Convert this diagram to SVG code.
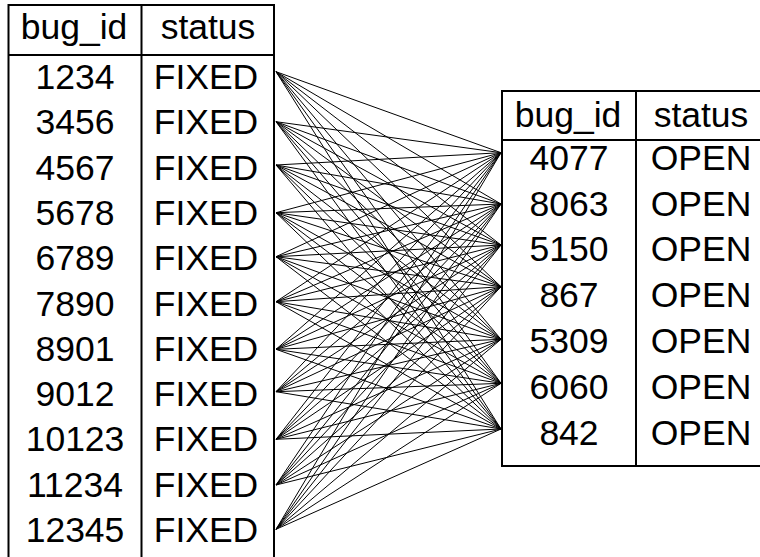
<svg xmlns="http://www.w3.org/2000/svg" width="760" height="557" viewBox="0 0 760 557">
<style>
.tb{fill:#fff;stroke:#000;stroke-width:2}
.gl{stroke:#000;stroke-width:2}
text{font-family:"Liberation Sans",Arial,Helvetica,sans-serif;font-size:35.5px;fill:#000;text-anchor:middle}
.c line{stroke:#000;stroke-width:1}
</style>
<rect width="760" height="557" fill="#fff"/>
<g id="fixed_table">
<rect class="tb" x="8.5" y="5" width="265.5" height="560"/>
<line class="gl" x1="8.5" y1="55" x2="274" y2="55"/>
<line class="gl" x1="141.5" y1="5" x2="141.5" y2="565"/>
<text x="74" y="38.5">bug_id</text><text x="208" y="38.5">status</text>
<g id="f1234"><text x="75" y="88.8">1234</text><text x="206" y="88.8">FIXED</text></g>
<g id="f3456"><text x="75" y="134.1">3456</text><text x="206" y="134.1">FIXED</text></g>
<g id="f4567"><text x="75" y="179.5">4567</text><text x="206" y="179.5">FIXED</text></g>
<g id="f5678"><text x="75" y="224.8">5678</text><text x="206" y="224.8">FIXED</text></g>
<g id="f6789"><text x="75" y="270.1">6789</text><text x="206" y="270.1">FIXED</text></g>
<g id="f7890"><text x="75" y="315.5">7890</text><text x="206" y="315.5">FIXED</text></g>
<g id="f8901"><text x="75" y="360.8">8901</text><text x="206" y="360.8">FIXED</text></g>
<g id="f9012"><text x="75" y="406.1">9012</text><text x="206" y="406.1">FIXED</text></g>
<g id="f10123"><text x="75" y="451.4">10123</text><text x="206" y="451.4">FIXED</text></g>
<g id="f11234"><text x="75" y="496.8">11234</text><text x="206" y="496.8">FIXED</text></g>
<g id="f12345"><text x="75" y="542.1">12345</text><text x="206" y="542.1">FIXED</text></g>
</g>
<g id="open_table">
<rect class="tb" x="502" y="91" width="266" height="375"/>
<line class="gl" x1="502" y1="140" x2="768" y2="140"/>
<line class="gl" x1="636" y1="91" x2="636" y2="466"/>
<text x="568" y="126.5">bug_id</text><text x="701" y="126.5">status</text>
<g id="o4077"><text x="569" y="169.6">4077</text><text x="701" y="169.6">OPEN</text></g>
<g id="o8063"><text x="569" y="215.5">8063</text><text x="701" y="215.5">OPEN</text></g>
<g id="o5150"><text x="569" y="261.4">5150</text><text x="701" y="261.4">OPEN</text></g>
<g id="o867"><text x="569" y="307.3">867</text><text x="701" y="307.3">OPEN</text></g>
<g id="o5309"><text x="569" y="353.2">5309</text><text x="701" y="353.2">OPEN</text></g>
<g id="o6060"><text x="569" y="399.1">6060</text><text x="701" y="399.1">OPEN</text></g>
<g id="o842"><text x="569" y="445">842</text><text x="701" y="445">OPEN</text></g>
</g>
<g id="connectors" class="c">
<line x1="276" y1="71.7" x2="501" y2="152.7"/><line x1="276" y1="71.7" x2="501" y2="204"/><line x1="276" y1="71.7" x2="501" y2="245"/><line x1="276" y1="71.7" x2="501" y2="286.7"/><line x1="276" y1="71.7" x2="501" y2="339.3"/><line x1="276" y1="71.7" x2="501" y2="383.3"/><line x1="276" y1="71.7" x2="501" y2="429"/>
<line x1="276" y1="121.7" x2="501" y2="152.7"/><line x1="276" y1="121.7" x2="501" y2="204"/><line x1="276" y1="121.7" x2="501" y2="245"/><line x1="276" y1="121.7" x2="501" y2="286.7"/><line x1="276" y1="121.7" x2="501" y2="339.3"/><line x1="276" y1="121.7" x2="501" y2="383.3"/><line x1="276" y1="121.7" x2="501" y2="429"/>
<line x1="276" y1="165" x2="501" y2="152.7"/><line x1="276" y1="165" x2="501" y2="204"/><line x1="276" y1="165" x2="501" y2="245"/><line x1="276" y1="165" x2="501" y2="286.7"/><line x1="276" y1="165" x2="501" y2="339.3"/><line x1="276" y1="165" x2="501" y2="383.3"/><line x1="276" y1="165" x2="501" y2="429"/>
<line x1="276" y1="212.7" x2="501" y2="152.7"/><line x1="276" y1="212.7" x2="501" y2="204"/><line x1="276" y1="212.7" x2="501" y2="245"/><line x1="276" y1="212.7" x2="501" y2="286.7"/><line x1="276" y1="212.7" x2="501" y2="339.3"/><line x1="276" y1="212.7" x2="501" y2="383.3"/><line x1="276" y1="212.7" x2="501" y2="429"/>
<line x1="276" y1="256.7" x2="501" y2="152.7"/><line x1="276" y1="256.7" x2="501" y2="204"/><line x1="276" y1="256.7" x2="501" y2="245"/><line x1="276" y1="256.7" x2="501" y2="286.7"/><line x1="276" y1="256.7" x2="501" y2="339.3"/><line x1="276" y1="256.7" x2="501" y2="383.3"/><line x1="276" y1="256.7" x2="501" y2="429"/>
<line x1="276" y1="301.7" x2="501" y2="152.7"/><line x1="276" y1="301.7" x2="501" y2="204"/><line x1="276" y1="301.7" x2="501" y2="245"/><line x1="276" y1="301.7" x2="501" y2="286.7"/><line x1="276" y1="301.7" x2="501" y2="339.3"/><line x1="276" y1="301.7" x2="501" y2="383.3"/><line x1="276" y1="301.7" x2="501" y2="429"/>
<line x1="276" y1="349.3" x2="501" y2="152.7"/><line x1="276" y1="349.3" x2="501" y2="204"/><line x1="276" y1="349.3" x2="501" y2="245"/><line x1="276" y1="349.3" x2="501" y2="286.7"/><line x1="276" y1="349.3" x2="501" y2="339.3"/><line x1="276" y1="349.3" x2="501" y2="383.3"/><line x1="276" y1="349.3" x2="501" y2="429"/>
<line x1="276" y1="391.7" x2="501" y2="152.7"/><line x1="276" y1="391.7" x2="501" y2="204"/><line x1="276" y1="391.7" x2="501" y2="245"/><line x1="276" y1="391.7" x2="501" y2="286.7"/><line x1="276" y1="391.7" x2="501" y2="339.3"/><line x1="276" y1="391.7" x2="501" y2="383.3"/><line x1="276" y1="391.7" x2="501" y2="429"/>
<line x1="276" y1="439.3" x2="501" y2="152.7"/><line x1="276" y1="439.3" x2="501" y2="204"/><line x1="276" y1="439.3" x2="501" y2="245"/><line x1="276" y1="439.3" x2="501" y2="286.7"/><line x1="276" y1="439.3" x2="501" y2="339.3"/><line x1="276" y1="439.3" x2="501" y2="383.3"/><line x1="276" y1="439.3" x2="501" y2="429"/>
<line x1="276" y1="485" x2="501" y2="152.7"/><line x1="276" y1="485" x2="501" y2="204"/><line x1="276" y1="485" x2="501" y2="245"/><line x1="276" y1="485" x2="501" y2="286.7"/><line x1="276" y1="485" x2="501" y2="339.3"/><line x1="276" y1="485" x2="501" y2="383.3"/><line x1="276" y1="485" x2="501" y2="429"/>
<line x1="276" y1="529.3" x2="501" y2="152.7"/><line x1="276" y1="529.3" x2="501" y2="204"/><line x1="276" y1="529.3" x2="501" y2="245"/><line x1="276" y1="529.3" x2="501" y2="286.7"/><line x1="276" y1="529.3" x2="501" y2="339.3"/><line x1="276" y1="529.3" x2="501" y2="383.3"/><line x1="276" y1="529.3" x2="501" y2="429"/>
</g>
</svg>
